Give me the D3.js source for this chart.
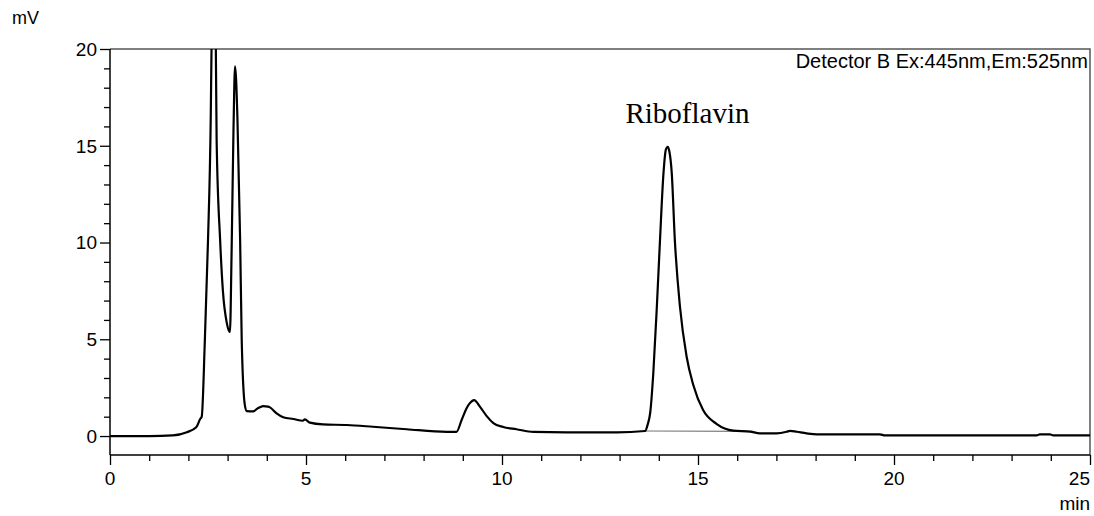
<!DOCTYPE html>
<html>
<head>
<meta charset="utf-8">
<script src="https://cdn.jsdelivr.net/npm/d3@7"></script>
<style>
  body { margin: 0; background: #fff; }
  svg { display: block; }
</style>
</head>
<body>
<svg id="chart"></svg>
<script>
// retention time (min) and signal (mV)
const times = [0, 1.0, 1.6, 1.96, 2.2, 2.3, 2.34, 2.42, 2.5, 2.57, 2.59, 2.65, 2.7, 2.72, 2.81, 2.88, 2.98, 3.06,
  3.1, 3.15, 3.19, 3.25, 3.32, 3.36, 3.44, 3.49, 3.65, 3.78, 3.91, 4.03, 4.08, 4.25, 4.42, 4.68, 4.92, 4.97, 5.1,
  5.43, 6.04, 6.71, 7.57, 8.59, 8.84, 8.97, 9.1, 9.18, 9.29, 9.44, 9.61, 9.78, 10.03, 10.37, 10.8, 11.65, 12.93,
  13.65, 13.72, 13.78, 13.86, 13.95, 14.03, 14.12, 14.18, 14.23, 14.27, 14.33, 14.41, 14.54, 14.71, 14.88, 15.13,
  15.48, 15.9, 16.33, 16.58, 17.0, 17.26, 17.35, 17.52, 17.77, 18.03, 19.64, 19.77, 23.64, 23.72, 23.98, 24.06, 25.0];
const signal = [0, 0, 0.03, 0.2, 0.45, 0.88, 1.0, 4.96, 10.1, 16.5, 20, 24, 20, 15.3, 10.1, 7.5, 5.84, 5.37,
  9.25, 15.8, 19.1, 16.5, 10.1, 4.96, 1.6, 1.29, 1.27, 1.45, 1.55, 1.52, 1.48, 1.17, 0.97, 0.88, 0.79, 0.86, 0.69,
  0.6, 0.57, 0.48, 0.35, 0.22, 0.22, 0.83, 1.45, 1.7, 1.86, 1.51, 1.03, 0.67, 0.47, 0.35, 0.21, 0.19, 0.19,
  0.26, 0.62, 1.19, 3.26, 6.68, 10.1, 13.6, 14.8, 14.95, 14.7, 13.6, 10.1, 6.68, 4.1, 2.64, 1.34,
  0.62, 0.28, 0.23, 0.14, 0.14, 0.22, 0.27, 0.22, 0.14, 0.09, 0.09, 0.03, 0.03, 0.09, 0.09, 0.03, 0.03];

// integration baseline under the riboflavin peak
const baseTimes = [13.65, 16.4];
const baseSignal = [0.26, 0.24];

const xMajor = [0, 5, 10, 15, 20, 25];
const yMajor = [0, 5, 10, 15, 20];
const peakLabel = { text: "Riboflavin", t: 14.73, v: 16.2 };
const detectorLabel = "Detector B Ex:445nm,Em:525nm";

const W = 1094, H = 516;
const m = { left: 110, right: 1090, top: 49, bottom: 455 };

const svg = d3.select("#chart").attr("width", W).attr("height", H);

const x = d3.scaleLinear().domain([0, 25]).range([m.left, m.right]);
const y = d3.scaleLinear().domain([-0.98, 20]).range([m.bottom, m.top]);

svg.append("defs").append("clipPath").attr("id", "plotClip")
  .append("rect").attr("x", m.left).attr("y", m.top)
  .attr("width", m.right - m.left).attr("height", m.bottom - m.top);

// frame: top and right in grey
svg.append("path")
  .attr("d", `M${m.left},${m.top}H${m.right}V${m.bottom}`)
  .attr("fill", "none").attr("stroke", "#555").attr("stroke-width", 1.5);

// x axis
const xAxis = svg.append("g").attr("transform", `translate(0,${m.bottom})`)
  .call(d3.axisBottom(x).tickValues(d3.range(0, 26, 1)).tickSize(6).tickFormat(""))
  .call(g => g.select(".domain").remove());
xAxis.selectAll(".tick line").attr("stroke", "#000").attr("stroke-width", 1.3)
  .attr("y2", d => xMajor.includes(d) ? 10 : 6);
svg.append("line").attr("x1", m.left).attr("x2", m.right).attr("y1", m.bottom).attr("y2", m.bottom)
  .attr("stroke", "#000").attr("stroke-width", 1.5);
svg.append("g").selectAll("text").data(xMajor).join("text")
  .attr("x", d => x(d)).attr("y", 485)
  .attr("text-anchor", d => d === 25 ? "end" : "middle")
  .style("font", "19px 'Liberation Sans', Arial, sans-serif")
  .text(d => d);
svg.append("text").attr("x", m.right).attr("y", 510).attr("text-anchor", "end")
  .style("font", "19px 'Liberation Sans', Arial, sans-serif").text("min");

// y axis
const yAxis = svg.append("g").attr("transform", `translate(${m.left},0)`)
  .call(d3.axisLeft(y).tickValues(d3.range(0, 21, 1)).tickSize(6).tickFormat(""))
  .call(g => g.select(".domain").remove());
yAxis.selectAll(".tick line").attr("stroke", "#000").attr("stroke-width", 1.3)
  .attr("x2", d => yMajor.includes(d) ? -10 : -6);
svg.append("line").attr("x1", m.left).attr("x2", m.left).attr("y1", m.top).attr("y2", m.bottom)
  .attr("stroke", "#000").attr("stroke-width", 1.5);
svg.append("g").selectAll("text").data(yMajor).join("text")
  .attr("x", 97).attr("y", d => y(d)).attr("dy", "0.36em")
  .attr("text-anchor", "end")
  .style("font", "19px 'Liberation Sans', Arial, sans-serif")
  .text(d => d);
svg.append("text").attr("x", 12).attr("y", 24)
  .style("font", "18px 'Liberation Sans', Arial, sans-serif").text("mV");

// trace
const pts = times.map((t, i) => [t, signal[i]]);
const line = d3.line().x(d => x(d[0])).y(d => y(d[1])).curve(d3.curveMonotoneX);
const plot = svg.append("g").attr("clip-path", "url(#plotClip)");
plot.append("path")
  .attr("d", d3.line().x(d => x(d[0])).y(d => y(d[1]))(baseTimes.map((t, i) => [t, baseSignal[i]])))
  .attr("fill", "none").attr("stroke", "#777").attr("stroke-width", 1.2);
plot.append("path").datum(pts)
  .attr("d", line)
  .attr("fill", "none").attr("stroke", "#000").attr("stroke-width", 2.2)
  .attr("stroke-linejoin", "round");

// labels
svg.append("text").attr("x", m.right - 2).attr("y", 68).attr("text-anchor", "end")
  .style("font", "20px 'Liberation Sans', Arial, sans-serif").text(detectorLabel);
svg.append("text").attr("x", x(peakLabel.t)).attr("y", y(peakLabel.v))
  .attr("text-anchor", "middle")
  .style("font", "29px 'Liberation Serif', 'Times New Roman', serif").text(peakLabel.text);
</script>
</body>
</html>
